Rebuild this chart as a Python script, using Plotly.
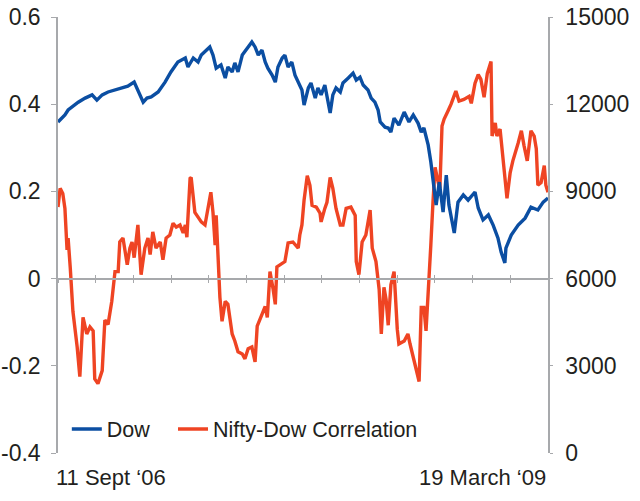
import pandas as pd
import plotly.graph_objects as go

# ---- data ----
start_date = pd.Timestamp("2006-09-11")
end_label = "19 March \u201809"
start_label = "11 Sept \u201806"

# Dow Jones level: days since 11 Sept 2006 and index level
dow_day = [0, 8, 13, 19, 26, 38, 51, 64, 73, 83, 94, 107, 120, 131, 143, 150, 156, 160, 167, 175,
           188, 201, 212, 225, 239, 244, 254, 263, 269, 278, 285, 291, 297, 306, 314, 319, 327, 332,
           338, 346, 355, 364, 370, 376, 383, 389, 394, 402, 408, 413, 421, 426, 432, 439, 445, 451,
           458, 462, 470, 475, 483, 488, 494, 501, 507, 511, 516, 522, 530, 535, 545, 554, 560, 567,
           573, 582, 588, 595, 601, 605, 614, 620, 625, 631, 640, 650, 659, 667, 676, 682, 687, 695,
           700, 706, 710, 716, 723, 729, 734, 744, 751, 761, 770, 783, 789, 798, 808, 817, 826, 832,
           839, 841, 851, 864, 877, 888, 901, 911, 920]
dow_level = [11390, 11520, 11630, 11800, 11900, 12070, 12210, 12320, 12140, 12320, 12420, 12490, 12560,
             12620, 12760, 12490, 12250, 12070, 12210, 12250, 12420, 12760, 13110, 13450, 13590, 13280,
             13590, 13450, 13690, 13860, 13970, 13690, 13240, 13350, 12900, 13280, 13110, 13420, 13110,
             13690, 13930, 14140, 13970, 13690, 13860, 13450, 13240, 13000, 12760, 13280, 13590, 13690,
             13280, 13450, 13000, 12760, 12490, 11970, 12560, 12730, 12210, 12560, 12320, 12660, 12140,
             11700, 12320, 12560, 12420, 12730, 12900, 13070, 12830, 12930, 12660, 12490, 12210, 12070,
             11800, 11390, 11210, 11180, 11040, 11520, 11280, 11730, 11390, 11630, 11350, 11040, 11180,
             10600, 10010, 9120, 8530, 9320, 8290, 9560, 8530, 7570, 8630, 8880, 8700, 8980, 8430, 8020,
             8190, 7840, 7400, 6910, 6540, 7050, 7500, 7840, 8080, 8460, 8360, 8630, 8770]

# Nifty-Dow correlation: days since 11 Sept 2006 and correlation value
corr_day = [0, 4, 9, 13, 17, 19, 23, 28, 36, 41, 47, 54, 60, 66, 69, 75, 83, 88, 94, 101, 107, 113,
            116, 122, 130, 135, 139, 143, 150, 156, 163, 169, 173, 178, 184, 192, 197, 203, 210, 216,
            222, 229, 235, 239, 242, 248, 250, 257, 263, 269, 276, 282, 287, 291, 295, 297, 300, 304,
            308, 314, 319, 327, 332, 338, 346, 351, 357, 364, 370, 374, 383, 389, 393, 398, 404, 408,
            411, 421, 426, 432, 441, 451, 454, 458, 462, 468, 473, 477, 485, 492, 494, 501, 505, 511,
            516, 522, 530, 535, 541, 550, 558, 560, 565, 571, 578, 586, 590, 597, 603, 607, 612, 616,
            620, 625, 631, 637, 640, 650, 657, 661, 669, 674, 678, 682, 687, 691, 697, 700, 704, 708,
            714, 717, 721, 725, 732, 738, 747, 753, 762, 772, 776, 783, 789, 794, 800, 806, 813, 815,
            821, 824, 830, 836, 839, 843, 849, 854, 864, 870, 875, 881, 888, 894, 898, 901, 907, 913,
            916, 920]
corr_value = [0.164, 0.207, 0.195, 0.161, 0.066, 0.093, 0.025, -0.075, -0.157, -0.225, -0.089, -0.127,
              -0.111, -0.120, -0.230, -0.241, -0.211, -0.095, -0.105, -0.052, 0.016, 0.016, 0.084,
              0.093, 0.032, 0.070, 0.084, 0.048, 0.123, 0.009, 0.070, 0.093, 0.055, 0.107, 0.070,
              0.084, 0.043, 0.093, 0.100, 0.127, 0.118, 0.123, 0.105, 0.123, 0.095, 0.230, 0.232,
              0.152, 0.141, 0.130, 0.123, 0.161, 0.198, 0.152, 0.077, 0.145, 0.055, -0.043, -0.098,
              -0.052, -0.059, -0.127, -0.143, -0.168, -0.173, -0.184, -0.161, -0.157, -0.191, -0.109,
              -0.082, -0.064, -0.089, 0.016, -0.025, -0.059, 0.027, 0.036, 0.039, 0.082, 0.084, 0.070,
              0.100, 0.123, 0.180, 0.236, 0.214, 0.168, 0.164, 0.150, 0.130, 0.161, 0.175, 0.232,
              0.207, 0.161, 0.123, 0.123, 0.161, 0.164, 0.145, 0.039, 0.009, 0.084, 0.100, 0.157,
              0.070, 0.039, -0.025, -0.127, -0.020, -0.048, -0.107, -0.014, 0.016, -0.116, -0.150,
              -0.143, -0.127, -0.150, -0.189, -0.211, -0.236, -0.066, -0.066, -0.120, -0.007, 0.077,
              0.175, 0.255, 0.220, 0.207, 0.350, 0.366, 0.384, 0.400, 0.430, 0.407, 0.411, 0.418,
              0.402, 0.448, 0.468, 0.457, 0.416, 0.470, 0.498, 0.327, 0.357, 0.327, 0.343, 0.275,
              0.230, 0.184, 0.243, 0.270, 0.311, 0.339, 0.305, 0.270, 0.339, 0.327, 0.298, 0.214,
              0.220, 0.259, 0.214, 0.198]

left_ticks = [-0.4, -0.2, 0, 0.2, 0.4, 0.6]
left_ticktext = ["-0.4", "-0.2", "0", "0.2", "0.4", "0.6"]
right_ticks = [0, 3000, 6000, 9000, 12000, 15000]

# ---- styling ----
BLUE = "#0b4ea2"
RED = "#ef4423"
AXIS = "#a7a9ac"
TEXT = "#231f20"
FONT = "Liberation Sans, Arial, sans-serif"

total_days = (pd.Timestamp("2009-03-19") - start_date).days  # 920
n_intervals = 13
x_tickvals = [total_days * k / n_intervals for k in range(n_intervals + 1)]

legend_common = dict(orientation="h", xanchor="left", y=0.055, yanchor="middle",
                     font=dict(size=21.5, color=TEXT), bgcolor="rgba(0,0,0,0)", itemwidth=30)

fig = go.Figure()
fig.add_trace(go.Scatter(x=dow_day, y=dow_level, name="Dow", mode="lines",
                         line=dict(color=BLUE, width=3.4), xaxis="x2", yaxis="y2",
                         legend="legend"))
fig.add_trace(go.Scatter(x=corr_day, y=corr_value, name="Nifty-Dow Correlation", mode="lines",
                         line=dict(color=RED, width=3.4), xaxis="x", yaxis="y",
                         legend="legend2"))

fig.update_layout(
    width=640, height=501,
    margin=dict(l=58, r=92, t=17, b=48, autoexpand=False),
    paper_bgcolor="white", plot_bgcolor="white",
    font=dict(family=FONT, color=TEXT, size=22),
    showlegend=True,
    legend=dict(x=0.018, **legend_common),
    legend2=dict(x=0.2347, **legend_common),
    xaxis=dict(range=[0, total_days], anchor="free", position=0.4, showgrid=False, zeroline=False,
               showline=True, linecolor=AXIS, linewidth=1.5, ticks="outside", ticklen=4,
               tickcolor=AXIS, tickwidth=1.2, tickvals=x_tickvals, showticklabels=False,
               automargin=False),
    xaxis2=dict(range=[0, total_days], overlaying="x", anchor="free", position=0.4, showgrid=False,
                zeroline=False, showline=False, ticks="inside", ticklen=4, tickcolor=AXIS,
                tickwidth=1.2, tickvals=x_tickvals, showticklabels=False, automargin=False),
    yaxis=dict(range=[-0.4, 0.6], tickvals=left_ticks, ticktext=left_ticktext, showgrid=False,
               zeroline=False, showline=True, linecolor=AXIS, linewidth=1.5, ticks="outside",
               ticklen=5, tickcolor=AXIS, tickwidth=1.2, tickfont=dict(size=23, color=TEXT),
               ticklabelstandoff=6, anchor="x", automargin=False),
    yaxis2=dict(range=[0, 15000], tickvals=right_ticks, overlaying="y", side="right",
                showgrid=False, zeroline=False, showline=True, linecolor=AXIS, linewidth=1.5,
                ticks="outside", ticklen=3, tickcolor=AXIS, tickwidth=1.2,
                tickfont=dict(size=23, color=TEXT), ticklabelstandoff=8, anchor="x2",
                tickformat="d", automargin=False),
    annotations=[
        dict(text=start_label, x=0, xref="x", y=0, yref="paper", xanchor="left", yanchor="middle",
             yshift=-24, xshift=-4, showarrow=False, font=dict(size=22, color=TEXT)),
        dict(text=end_label, x=total_days, xref="x", y=0, yref="paper", xanchor="right",
             yanchor="middle", yshift=-24, showarrow=False, font=dict(size=22, color=TEXT)),
    ],
)

fig.write_html("out.html",
               config={"displayModeBar": False},
               post_script="document.body.style.margin='0px';document.body.style.padding='0px';")
